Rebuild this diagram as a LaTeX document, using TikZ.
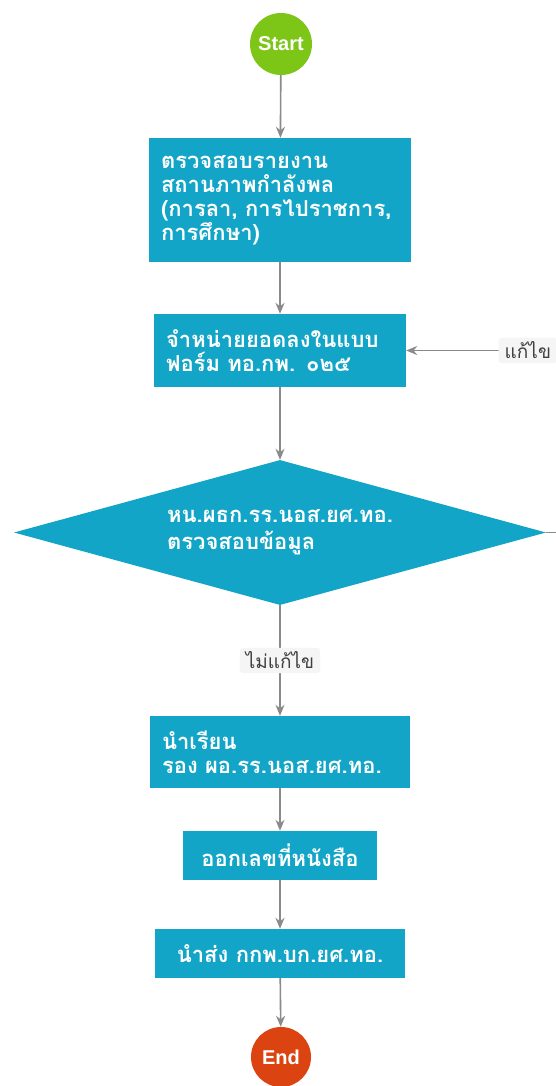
\documentclass[tikz,border=0pt]{standalone}
\usepackage{fontspec}
\setmainfont{Liberation Sans}
\newfontfamily\thaifont[Script=Thai]{Loma}
\usetikzlibrary{shapes.geometric,arrows.meta}
\definecolor{boxc}{HTML}{12A5C7}
\definecolor{startc}{HTML}{7DC516}
\definecolor{endc}{HTML}{DB4410}
\definecolor{arrc}{HTML}{8A8A8A}
\definecolor{lblbg}{HTML}{F5F5F5}
\definecolor{lbltext}{HTML}{404040}
\begin{document}
\begin{tikzpicture}[x=1pt,y=-1pt,
  term/.style={circle, draw=none, text=white, font=\fontsize{20}{22}\selectfont\bfseries, inner sep=0pt},
  proc/.style={rectangle, fill=boxc, draw=none, text=white, font=\thaifont\fontsize{22}{24}\selectfont\bfseries, inner xsep=12pt, inner ysep=0pt, align=left},
  dec/.style={diamond, aspect=3.67, fill=boxc, draw=none, text=white, font=\thaifont\fontsize{22}{27}\selectfont\bfseries, align=left, inner sep=0pt},
  conn/.style={draw=arrc, line width=1.6pt, -{Stealth[length=11pt,width=9pt]}},
  lbl/.style={fill=lblbg, rounded corners=3pt, text=lbltext, font=\thaifont\fontsize{19}{20}\selectfont, inner xsep=6pt, inner ysep=4pt}
]
\useasboundingbox (0,0) rectangle (556,1086);
\fill[white] (0,0) rectangle (556,1086);

\node[term, fill=startc, minimum size=62pt] (start) at (281,44) {Start};
\node[proc, text width=238pt, minimum height=124pt] (b1) at (280,200) {ตรวจสอบรายงาน\\สถานภาพกำลังพล\\(การลา, การไปราชการ,\\การศึกษา)};
\node[proc, text width=228pt, minimum height=73pt] (b2) at (280,350.5) {จำหน่ายยอดลงในแบบ\\ฟอร์ม ทอ.กพ. ๐๒๕};
\node[dec, minimum width=532pt, minimum height=145pt] (d) at (280,532.5) {หน.ผธก.รร.นอส.ยศ.ทอ.\\ตรวจสอบข้อมูล};
\node[proc, text width=236pt, minimum height=72pt] (b3) at (280,752) {นำเรียน\\รอง ผอ.รร.นอส.ยศ.ทอ.};
\node[proc, align=center, minimum width=194pt, minimum height=49pt] (b4) at (280,855.5) {ออกเลขที่หนังสือ};
\node[proc, align=center, minimum width=250pt, minimum height=49pt] (b5) at (280,953.5) {นำส่ง กกพ.บก.ยศ.ทอ.};
\node[term, fill=endc, minimum size=60pt] (end) at (281,1057) {End};

\coordinate (corner) at (580,532.5);
\coordinate (corner2) at (580,350.5);

\draw[conn] (start) -- (b1);
\draw[conn] (b1) -- (b2);
\draw[conn] (b2) -- (d);
\draw[conn] (d) -- node[lbl, pos=0.5] {ไม่แก้ไข} (b3);
\draw[conn] (b3) -- (b4);
\draw[conn] (b4) -- (b5);
\draw[conn] (b5) -- (end);
\draw[conn] (d.east) -- (corner) -- (corner2) -- node[lbl, pos=0.3] {แก้ไข} (b2.east);
\end{tikzpicture}
\end{document}
